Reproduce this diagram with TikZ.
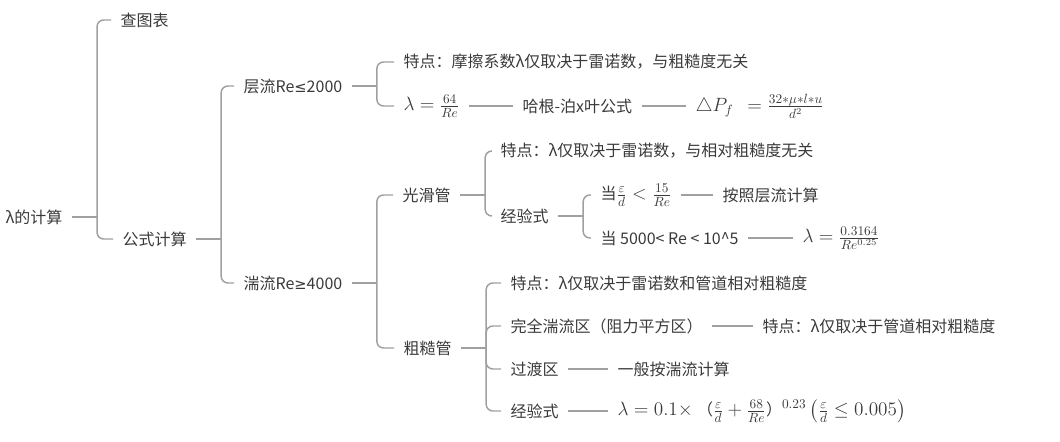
\documentclass[tikz,border=0pt]{standalone}
\usepackage{fontspec}
\setmainfont{Noto Sans CJK SC}
\newfontfamily\symfont{DejaVu Sans}
\usepackage{amsmath}
\definecolor{linkgray}{HTML}{A0A0A0}
\definecolor{txtgray}{HTML}{3A3A3A}
\newcommand\txtsize{\fontsize{12}{14}\selectfont}
\newcommand\lesym{{\symfont\fontsize{11}{14}\selectfont ≤}}
\newcommand\gesym{{\symfont\fontsize{11}{14}\selectfont ≥}}

\begin{document}
\begin{tikzpicture}
  [x=0.75pt,y=-0.75pt,
   every node/.style={anchor=west,inner xsep=7pt,inner ysep=2pt,text=txtgray,font=\txtsize},
   eq/.style={font=\fontsize{14.5}{16}\selectfont},
   link/.style={draw=linkgray,line width=1.1pt}]
  \useasboundingbox (0,0) rectangle (1060,442);

  \node (root) at (-4,217) {λ的计算};
  \node (chart) at (111,20) {查图表};
  \node (formula) at (113,239) {公式计算};

  \node (lam) at (234,86) {层流Re\lesym 2000};
  \node (turb) at (234,283) {湍流Re\gesym 4000};

  \node (lamA) at (394,62) {特点：摩擦系数λ仅取决于雷诺数，与粗糙度无关};
  \node[eq] (lamB) at (394,106) {$\lambda=\frac{64}{Re}$};
  \node (hagen) at (513,106) {哈根-泊x叶公式};
  \node[eq] (dp) at (686,106) {$\triangle P_f\ \ =\frac{32*\mu*l*u}{d^2}$};

  \node (smooth) at (393,195) {光滑管};
  \node (smA) at (491,151) {特点：λ仅取决于雷诺数，与相对粗糙度无关};
  \node (smB) at (491,216) {经验式};
  \node[eq] (smC) at (591,195) {{\txtsize 当}$\frac{\varepsilon}{d}<\frac{15}{Re}$};
  \node (smCa) at (713,195) {按照层流计算};
  \node (smD) at (591,238) {当 5000< Re < 10\textasciicircum 5};
  \node[eq] (smDa) at (793,238) {$\lambda=\frac{0.3164}{Re^{0.25}}$};

  \node (rough) at (394,348) {粗糙管};
  \node (rA) at (501,283) {特点：λ仅取决于雷诺数和管道相对粗糙度};
  \node (rB) at (501,326) {完全湍流区（阻力平方区）};
  \node (rBa) at (753,326) {特点：λ仅取决于管道相对粗糙度};
  \node (rC) at (501,369) {过渡区};
  \node (rCa) at (608,369) {一般按湍流计算};
  \node (rD) at (501,411) {经验式};
  \node[eq] (rDa) at (608,411) {$\lambda=0.1\times$ {\txtsize （}$\frac{\varepsilon}{d}+\frac{68}{Re}${\txtsize ）}$^{0.23}\left(\frac{\varepsilon}{d}\le 0.005\right)$};

  % branches
  \foreach \from/\to in {root/chart, root/formula, formula/lam, formula/turb,
      lam/lamA, lam/lamB, turb/smooth, turb/rough, smooth/smA, smooth/smB,
      smB/smC, smB/smD, rough/rA, rough/rB, rough/rC, rough/rD}
  {
    \draw[link] (\from.east) -- ++(25,0) coordinate (j);
    \draw[link,rounded corners=5pt] (j) |- (\to.west);
  }

  % same row
  \foreach \from/\to in {lamB/hagen, hagen/dp, smC/smCa, smD/smDa, rB/rBa, rC/rCa, rD/rDa}
    \draw[link] (\from.east) -- (\from.east -| \to.west);

\end{tikzpicture}
\end{document}
